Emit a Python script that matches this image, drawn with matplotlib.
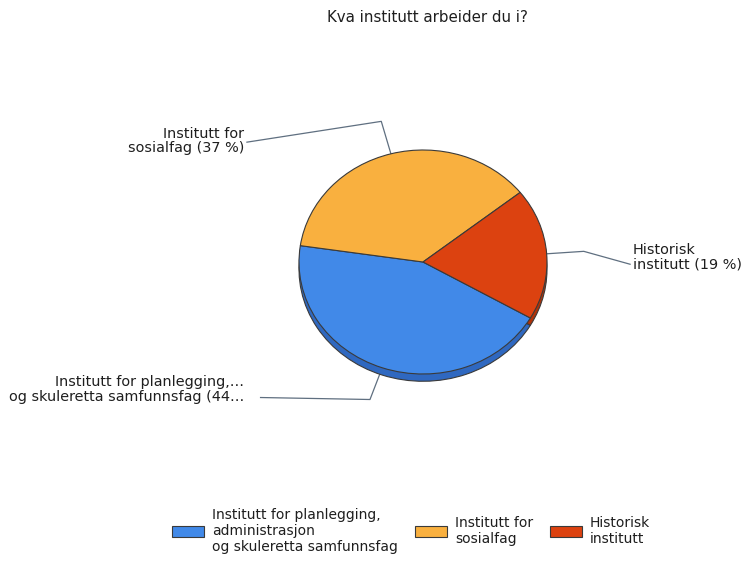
import matplotlib.pyplot as plt
import numpy as np

title = "Kva institutt arbeider du i?"
shares = [44, 37, 19]
legend_labels = [
    "Institutt for planlegging,\nadministrasjon\nog skuleretta samfunnsfag",
    "Institutt for\nsosialfag",
    "Historisk\ninstitutt",
]
slice_labels = [
    "Institutt for planlegging,\u2026\nog skuleretta samfunnsfag (44\u2026",
    "Institutt for\nsosialfag (37 %)",
    "Historisk\ninstitutt (19 %)",
]
colors = ["#4189e8", "#f9b03f", "#dc4210"]
side_colors = ["#2f68c0", "#d4902c", "#b03208"]

# label anchor (x, y, ha) and where the leader line ends, in pie units
label_layout = [(-1.44, -1.14, "right"), (-1.44, 1.08, "right"), (1.69, 0.04, "left")]
line_ends = [(-1.31, -1.21), (-1.42, 1.07), (1.67, -0.02)]

fig = plt.figure(figsize=(7.42, 5.62), dpi=100)
ax = fig.add_axes([268 / 742, 160 / 562, 310 / 742, 280 / 562])

edge = dict(edgecolor="#3a3a3a", linewidth=0.8)
# darker copy underneath gives the pie a bit of thickness
ax.pie(shares, colors=side_colors, startangle=-30, counterclock=False,
       center=(0, -0.065), wedgeprops=edge)
wedges, _ = ax.pie(shares, colors=colors, startangle=-30, counterclock=False,
                   wedgeprops=edge)
ax.set_aspect("auto")
ax.set_xlim(-1.25, 1.25)
ax.set_ylim(-1.25, 1.25)

for w, lab, (tx, ty, ha), (ex, ey) in zip(wedges, slice_labels, label_layout, line_ends):
    ang = np.deg2rad((w.theta1 + w.theta2) / 2)
    x0, y0 = np.cos(ang), np.sin(ang)
    ax.plot([x0, 1.3 * x0, ex], [y0, 1.3 * y0, ey], color="#5f6f80",
            lw=0.9, clip_on=False, zorder=0)
    ax.text(tx, ty, lab, ha=ha, va="center", fontsize=10.4, color="#1e1e1e",
            linespacing=1.05)

fig.text(427 / 742, 1 - 18 / 562, title, ha="center", va="center",
         fontsize=10.8, color="#1e1e1e")

fig.legend(wedges, legend_labels, loc="center", bbox_to_anchor=(411 / 742, 1 - 531 / 562),
           ncol=3, frameon=False, fontsize=10, handlelength=2.3, handleheight=0.9,
           handletextpad=0.6, columnspacing=1.2, labelspacing=0.2)
for t in fig.legends[0].get_texts():
    t.set_color("#1e1e1e")
    t.set_linespacing(1.15)

fig.savefig("out.png", dpi=100, facecolor="white")
